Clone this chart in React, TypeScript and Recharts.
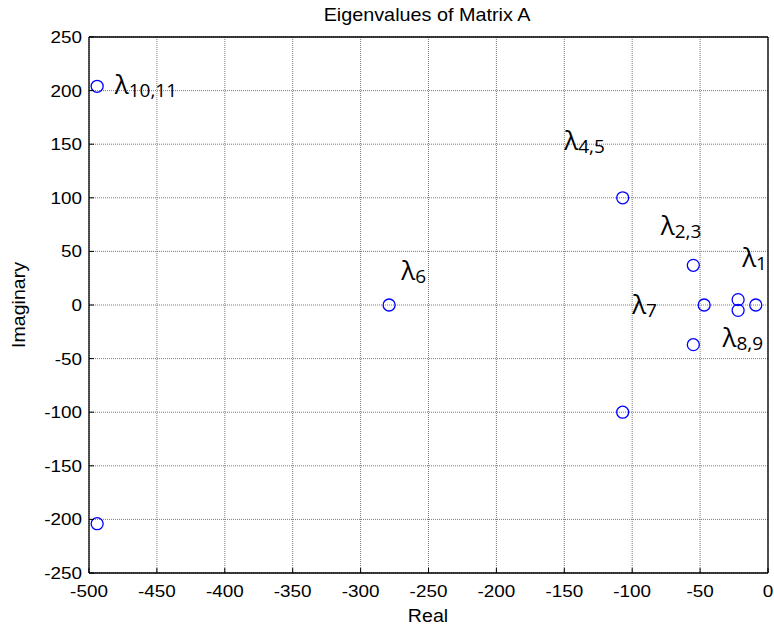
import { ScatterChart, Scatter, XAxis, YAxis, CartesianGrid } from 'recharts';

// eigenvalues of A
const realParts = [-494, -494, -279, -107, -107, -55, -55, -47, -22, -22, -9];
const imagParts = [204, -204, 0, 100, -100, 37, -37, 0, 5, -5, 0];

// lambda annotations: subscript text and where the label starts (data coords)
const labelSubs = ['10,11', '4,5', '2,3', '1', '7', '8,9', '6'];
const labelRe = [-481, -150, -79, -19, -100, -33.5, -270];
const labelIm = [197, 145, 65, 35, -8, -39, 23];

const xTicks = [-500, -450, -400, -350, -300, -250, -200, -150, -100, -50, 0];
const yTicks = [-250, -200, -150, -100, -50, 0, 50, 100, 150, 200, 250];

const eigenData = realParts.map((re, i) => ({ re, im: imagParts[i] }));
const labelData = labelSubs.map((sub, i) => ({ re: labelRe[i], im: labelIm[i], sub }));

const TICK_FONT = '"Liberation Sans", Arial, sans-serif';
const STRETCH = 1.18;

const BottomTick = (p: any) => (
  <g>
    <line x1={p.x} x2={p.x} y1={p.y} y2={p.y - 5} stroke="#000" />
    <text
      transform={`translate(${p.x},${p.y + 24}) scale(${STRETCH},1)`}
      textAnchor="middle"
      fontFamily={TICK_FONT}
      fontSize={16}
      fill="#000"
    >
      {p.payload.value}
    </text>
  </g>
);

const LeftTick = (p: any) => (
  <g>
    <line x1={p.x} x2={p.x + 5} y1={p.y} y2={p.y} stroke="#000" />
    <text
      transform={`translate(${p.x - 7},${p.y + 6}) scale(${STRETCH},1)`}
      textAnchor="end"
      fontFamily={TICK_FONT}
      fontSize={16}
      fill="#000"
    >
      {p.payload.value}
    </text>
  </g>
);

const TopTick = (p: any) => <line x1={p.x} x2={p.x} y1={p.y} y2={p.y + 5} stroke="#000" />;
const RightTick = (p: any) => <line x1={p.x} x2={p.x - 5} y1={p.y} y2={p.y} stroke="#000" />;

const EigenDot = (p: any) => (
  <circle cx={p.cx} cy={p.cy} r={6} fill="none" stroke="#0000ff" strokeWidth={1.3} />
);

const LambdaLabel = (p: any) => (
  <text x={p.cx} y={p.cy} fontFamily='"Open Sans", "Noto Sans", sans-serif' fill="#000">
    <tspan fontSize={26}>λ</tspan>
    <tspan fontSize={19} dy={3}>{p.payload.sub}</tspan>
  </text>
);

export default function App() {
  return (
    <div style={{ position: 'absolute', left: 0, top: 0, width: 774, height: 629, background: '#fff' }}>
      <ScatterChart width={774} height={629} margin={{ top: 36, right: 5, bottom: 0, left: 0 }}>
        <CartesianGrid stroke="#7a7a7a" strokeDasharray="1 1" />
        <XAxis
          type="number"
          dataKey="re"
          domain={[-500, 0]}
          ticks={xTicks}
          interval={0}
          height={56}
          tickSize={0}
          tickMargin={0}
          tickLine={false}
          tick={BottomTick}
          axisLine={{ stroke: '#000', strokeWidth: 1.3 }}
          allowDataOverflow
        />
        <XAxis
          xAxisId="top"
          orientation="top"
          type="number"
          domain={[-500, 0]}
          ticks={xTicks}
          interval={0}
          height={1}
          tickSize={0}
          tickMargin={0}
          tickLine={false}
          tick={TopTick}
          axisLine={{ stroke: '#000', strokeWidth: 1.3 }}
        />
        <YAxis
          type="number"
          dataKey="im"
          domain={[-250, 250]}
          ticks={yTicks}
          interval={0}
          width={89}
          tickSize={0}
          tickMargin={0}
          tickLine={false}
          tick={LeftTick}
          axisLine={{ stroke: '#000', strokeWidth: 1.3 }}
          allowDataOverflow
        />
        <YAxis
          yAxisId="right"
          orientation="right"
          type="number"
          domain={[-250, 250]}
          ticks={yTicks}
          interval={0}
          width={1}
          tickSize={0}
          tickMargin={0}
          tickLine={false}
          tick={RightTick}
          axisLine={{ stroke: '#000', strokeWidth: 1.3 }}
        />
        <Scatter data={eigenData} shape={EigenDot} isAnimationActive={false} />
        <Scatter data={labelData} shape={LambdaLabel} isAnimationActive={false} />
      </ScatterChart>
      <svg
        width={774}
        height={629}
        style={{ position: 'absolute', left: 0, top: 0, pointerEvents: 'none' }}
        fontFamily={TICK_FONT}
        fill="#000"
      >
        <text transform="translate(427,20.5) scale(1.1,1)" textAnchor="middle" fontSize={18}>
          Eigenvalues of Matrix A
        </text>
        <text transform="translate(428,622) scale(1.12,1)" textAnchor="middle" fontSize={17.5}>
          Real
        </text>
        <text transform="translate(25,305) rotate(-90) scale(1.12,1)" textAnchor="middle" fontSize={17.5}>
          Imaginary
        </text>
      </svg>
    </div>
  );
}
